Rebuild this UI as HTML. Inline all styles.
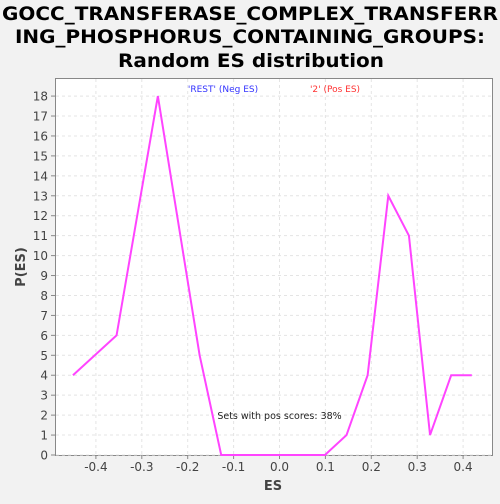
<!DOCTYPE html>
<html><head><meta charset="utf-8"><style>
body{margin:0;background:#f2f2f2;width:500px;height:500px;overflow:hidden;font-family:"DejaVu Sans","Liberation Sans",sans-serif}
</style></head><body>
<svg id="c" width="500" height="500" xmlns="http://www.w3.org/2000/svg" font-family="DejaVu Sans, Liberation Sans, sans-serif">
<rect x="0" y="0" width="500" height="500" fill="#f2f2f2"/>
<text x="250" y="20" text-anchor="middle" font-size="19" font-weight="bold" fill="#000" textLength="496" lengthAdjust="spacingAndGlyphs">GOCC_TRANSFERASE_COMPLEX_TRANSFERR</text>
<text x="250" y="43" text-anchor="middle" font-size="19" font-weight="bold" fill="#000" textLength="470" lengthAdjust="spacingAndGlyphs">ING_PHOSPHORUS_CONTAINING_GROUPS:</text>
<text x="251" y="67" text-anchor="middle" font-size="19" font-weight="bold" fill="#000" textLength="266" lengthAdjust="spacingAndGlyphs">Random ES distribution</text>
<rect x="55.5" y="78.5" width="437" height="377" fill="#fff" stroke="#888"/>
<g id="grid"></g><g id="axes"></g>
<text x="223" y="92" text-anchor="middle" font-size="9" fill="#3333ff">'REST' (Neg ES)</text>
<text x="335" y="92" text-anchor="middle" font-size="9" fill="#ff3333">'2' (Pos ES)</text>
<text x="279.5" y="419" text-anchor="middle" font-size="9.5" fill="#222">Sets with pos scores: 38%</text>
<text x="273" y="490" text-anchor="middle" font-size="13" font-weight="bold" fill="#444">ES</text>
<text x="25" y="267" text-anchor="middle" font-size="13" font-weight="bold" fill="#444" transform="rotate(-90 25 267)">P(ES)</text>
</svg>
<script>
const xs=[-0.45,-0.355,-0.265,-0.174,-0.127,-0.082,-0.036,0.009,0.054,0.099,0.146,0.192,0.237,0.282,0.328,0.374,0.419];
const ys=[4,6,18,5,0,0,0,0,0,0,1,4,13,11,1,4,4];
const xTicks=[-0.4,-0.3,-0.2,-0.1,0.0,0.1,0.2,0.3,0.4];
const yTicks=[0,1,2,3,4,5,6,7,8,9,10,11,12,13,14,15,16,17,18];
const X=v=>279.5+v*459, Y=v=>455-v*19.94;
const NS="http://www.w3.org/2000/svg",svg=document.getElementById('c');
const grid=document.getElementById('grid'),axes=document.getElementById('axes');
function mk(t,a,p){const e=document.createElementNS(NS,t);for(const k in a)e.setAttribute(k,a[k]);p.appendChild(e);return e;}
xTicks.forEach(t=>{const x=X(t);
const g=mk('line',{x1:x,x2:x,y1:79,y2:455,stroke:'#e4e4e4','stroke-dasharray':'3,3'},grid);


mk('line',{x1:x,x2:x,y1:455,y2:459,stroke:'#888'},axes);
const l=mk('text',{x:x,y:471,'text-anchor':'middle','font-size':'12',fill:'#444'},axes);l.textContent=t.toFixed(1);

});
yTicks.forEach(t=>{const y=Y(t);
const g=mk('line',{x1:56,x2:492,y1:y,y2:y,stroke:'#e4e4e4','stroke-dasharray':'3,3'},grid);


mk('line',{x1:51,x2:55,y1:y,y2:y,stroke:'#888'},axes);
const l=mk('text',{x:48,y:y+4.5,'text-anchor':'end','font-size':'12',fill:'#444'},axes);l.textContent=t;

});
const p=mk('polyline',{points:xs.map((v,i)=>X(v)+','+Y(ys[i])).join(' '),fill:'none',stroke:'#ff44ff','stroke-width':2},svg);


</script>
</body></html>
